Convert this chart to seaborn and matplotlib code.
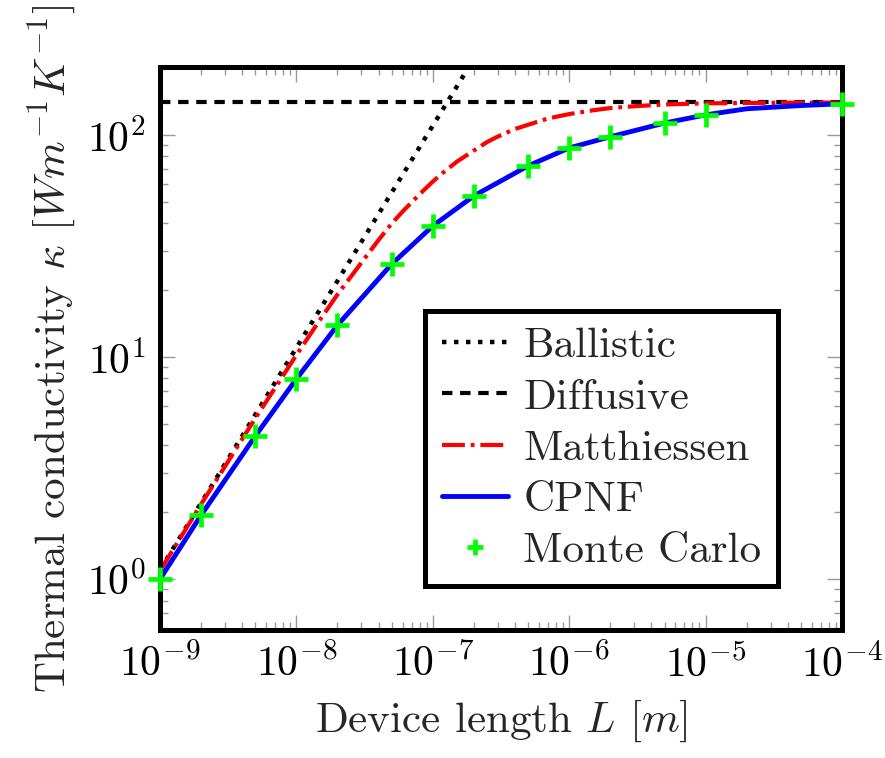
import matplotlib
matplotlib.use("Agg")
import matplotlib.pyplot as plt
import matplotlib.ticker as mticker
import seaborn as sns

# values
ballistic_L = [1e-9, 1e-6]
ballistic_k = [1.1, 1100.0]

diffusive_L = [1e-9, 1e-4]
diffusive_k = [140.0, 140.0]

matth_L = [1e-9, 2e-9, 5e-9, 1e-8, 1.5e-8, 2e-8, 3e-8, 4e-8, 5e-8, 6e-8, 7e-8, 8.5e-8,
           1e-7, 1.2e-7, 1.5e-7, 2e-7, 2.5e-7, 3e-7, 4e-7, 5e-7, 7e-7, 1e-6, 1.5e-6,
           2e-6, 3e-6, 5e-6, 1e-5, 3e-5, 1e-4]
matth_k = [1.09, 2.17, 5.3, 10.2, 14.8, 19.1, 26.6, 33.6, 39.9, 45.1, 49.7, 56.0,
           61.6, 67.9, 75.7, 85.0, 92.8, 98.3, 106.2, 111.0, 118.5, 124.0, 129.0,
           132.0, 134.5, 137.0, 138.6, 139.4, 139.8]

cpnf_L = [1e-9, 2e-9, 5e-9, 1e-8, 2e-8, 5e-8, 1e-7, 2e-7, 5e-7, 1e-6, 2e-6, 5e-6,
          1e-5, 2e-5, 5e-5, 1e-4]
cpnf_k = [1.0, 1.94, 4.41, 7.96, 13.9, 26.2, 38.9, 53.1, 72.5, 87.3, 98.0, 113.0,
          123.0, 131.0, 135.5, 138.0]

mc_L = [1e-9, 2e-9, 5e-9, 1e-8, 2e-8, 5e-8, 1e-7, 2e-7, 5e-7, 1e-6, 2e-6, 5e-6,
        1e-5, 1e-4]
mc_k = [1.0, 1.94, 4.41, 7.96, 13.9, 26.2, 38.9, 53.1, 72.5, 87.3, 98.0, 113.0,
        123.0, 138.0]

x_ticks = [1e-9, 1e-8, 1e-7, 1e-6, 1e-5, 1e-4]
y_ticks = [1, 10, 100]

sns.set_theme(style="ticks")
plt.rcParams["font.family"] = "serif"
plt.rcParams["font.serif"] = ["cmr10"]
plt.rcParams["mathtext.fontset"] = "cm"
plt.rcParams["axes.formatter.use_mathtext"] = True

FS = 30

fig = plt.figure(figsize=(8.85, 7.58), dpi=100)
ax = fig.add_axes([0.1808, 0.1689, 0.7706, 0.7427])

sns.lineplot(x=ballistic_L, y=ballistic_k, ax=ax, color="black", linewidth=3.2,
             linestyle=(0, (1, 1.7)), label="Ballistic", sort=False)
sns.lineplot(x=diffusive_L, y=diffusive_k, ax=ax, color="black", linewidth=3.0,
             linestyle=(0, (2.5, 1.85)), label="Diffusive", sort=False)
sns.lineplot(x=matth_L, y=matth_k, ax=ax, color="#ff0000", linewidth=3.0,
             linestyle=(0, (5.5, 1.4, 0.9, 1.4)), label="Matthiessen", sort=False)
sns.lineplot(x=cpnf_L, y=cpnf_k, ax=ax, color="#0000ff", linewidth=3.5,
             linestyle="-", label="CPNF", sort=False)
ax.plot(mc_L, mc_k, linestyle="none", marker="+", markersize=17, markeredgewidth=3.4,
        color="#00ff00", label="Monte Carlo", clip_on=False, zorder=5)

for ln in ax.lines:
    ln.set_dash_capstyle("butt")

ax.set_xscale("log")
ax.set_yscale("log")
ax.set_xlim(1e-9, 1e-4)
ax.set_ylim(0.59, 202)
ax.set_xticks(x_ticks)
ax.set_yticks(y_ticks)
ax.xaxis.set_minor_locator(mticker.LogLocator(base=10, subs=range(2, 10), numticks=50))
ax.yaxis.set_minor_locator(mticker.LogLocator(base=10, subs=range(2, 10), numticks=50))
ax.xaxis.set_minor_formatter(mticker.NullFormatter())
ax.yaxis.set_minor_formatter(mticker.NullFormatter())

ax.tick_params(which="both", direction="in", top=True, right=True, colors="#999999",
               width=1.0, labelcolor="black", labelsize=FS)
ax.tick_params(which="major", length=11, pad=10)
ax.tick_params(which="minor", length=6)
for sp in ax.spines.values():
    sp.set_linewidth(3.6)
    sp.set_color("black")

ax.set_xlabel(r"Device length $L$ $[m]$", fontsize=FS + 1, labelpad=10)
ax.set_ylabel(r"Thermal conductivity $\kappa$ $[Wm^{-1}K^{-1}]$", fontsize=FS + 1, labelpad=6)

leg = ax.legend(loc="lower right", bbox_to_anchor=(0.906, 0.078), borderaxespad=0,
                fontsize=FS + 1, frameon=True, fancybox=False, edgecolor="black",
                framealpha=1, handlelength=1.55, handletextpad=0.35, labelspacing=0.3,
                borderpad=0.38, markerscale=0.7)
leg.get_frame().set_linewidth(3.6)

fig.savefig("out.png", dpi=100)
